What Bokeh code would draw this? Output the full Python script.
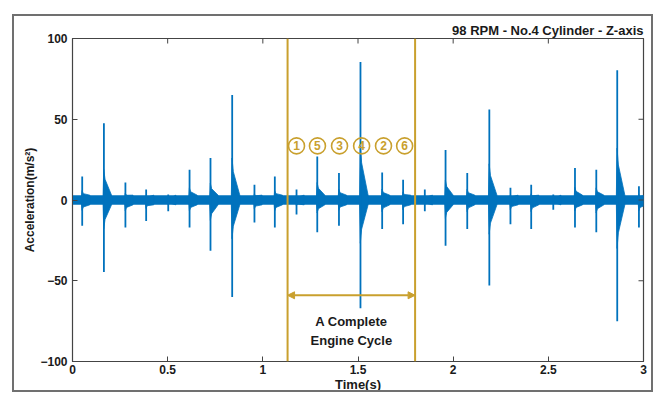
import math
from bokeh.plotting import figure
from bokeh.models import Range1d, Arrow, NormalHead, Span, FixedTicker
from bokeh.embed import file_html
from bokeh.resources import INLINE
from bokeh.core.properties import value

# ---- data ----
event_t = [0.051, 0.165, 0.278, 0.387, 0.503, 0.615, 0.725, 0.839, 0.956, 1.063,
           1.177, 1.286, 1.400, 1.513, 1.627, 1.737, 1.851, 1.960, 2.074, 2.190,
           2.301, 2.410, 2.526, 2.640, 2.752, 2.862, 2.976]
event_up = [14.6, 47.5, 10.8, 6.5, 3.4, 18.8, 26.0, 65.0, 9.5, 14.6,
            6.5, 27.0, 16.7, 85.4, 17.0, 12.6, 6.5, 31.0, 16.7, 56.0,
            7.6, 9.5, 3.4, 19.8, 18.8, 80.3, 8.5]
event_down = [-16.0, -44.6, -17.0, -13.0, -6.9, -17.0, -31.5, -60.0, -14.0, -17.0,
              -9.0, -20.0, -16.0, -67.0, -18.0, -15.0, -7.0, -28.4, -18.0, -53.0,
              -15.0, -18.0, -6.0, -17.0, -20.0, -75.0, -17.0]
noise_level = 3.0

x_ticks = [0, 0.5, 1, 1.5, 2, 2.5, 3]
x_tick_labels = ["0", "0.5", "1", "1.5", "2", "2.5", "3"]
y_ticks = [-100, -50, 0, 50, 100]

cycle_start, cycle_end = 1.13, 1.80
arrow_y = -59
cyl_order = ["1", "5", "3", "4", "2", "6"]
cyl_t = [1.177, 1.287, 1.403, 1.519, 1.634, 1.745]
cyl_y = 33.5
cycle_text = ["A Complete", "Engine Cycle"]
cycle_text_y = [-75, -87]

BLUE = "#0072BD"
GOLD = "#C9A02E"
TXT = "#1a1a1a"
AX = "#444444"
FONT = "Liberation Sans"

p = figure(width=641, height=378, x_range=Range1d(x_ticks[0], x_ticks[-1]),
           y_range=Range1d(y_ticks[0], y_ticks[-1]),
           output_backend="svg", toolbar_location=None,
           min_border_left=58, min_border_right=12, min_border_top=22, min_border_bottom=31)
p.styles = {"margin-left": "12px", "margin-top": "14px", "border": "2px solid #707070"}
p.xgrid.visible = False
p.ygrid.visible = False
p.outline_line_color = AX
p.outline_line_width = 1.2

p.title.text = "98 RPM - No.4 Cylinder - Z-axis"
p.title.align = "right"
p.title.text_font = FONT
p.title.text_font_size = "13px"
p.title.text_font_style = "bold"
p.title.text_color = TXT
p.title.standoff = 2

# signal
xs, ys = [], []
for t, u, d in zip(event_t, event_up, event_down):
    xs.append([t - 0.005, t - 0.001, t + 0.006, t + 0.04, t + 0.04, t + 0.006, t - 0.001])
    ys.append([0, 0.4 * u, 0.27 * u, noise_level, -noise_level, 0.27 * d, 0.4 * d])
p.varea(x=[x_ticks[0], x_ticks[-1]], y1=[-noise_level] * 2, y2=[noise_level] * 2,
        fill_color=BLUE)
p.patches(xs, ys, fill_color=BLUE, line_color=BLUE, line_width=0.8)
p.segment(x0=event_t, y0=event_down, x1=event_t, y1=event_up, line_color=BLUE, line_width=1.8)

# engine cycle markers
for loc in (cycle_start, cycle_end):
    p.add_layout(Span(location=loc, dimension="height", line_color=GOLD, line_width=2))
p.add_layout(Arrow(start=NormalHead(size=7, fill_color=GOLD, line_color=GOLD),
                   end=NormalHead(size=7, fill_color=GOLD, line_color=GOLD),
                   x_start=cycle_start, x_end=cycle_end, y_start=arrow_y, y_end=arrow_y,
                   line_color=GOLD, line_width=2))
mid = (cycle_start + cycle_end) / 2
p.text(x=[mid] * len(cycle_text), y=cycle_text_y, text=cycle_text, text_align="center",
       text_baseline="middle", text_font=value(FONT), text_font_size="13px",
       text_font_style="bold", text_color=TXT)
p.scatter(x=cyl_t, y=[cyl_y] * len(cyl_t), marker="circle", size=16, fill_alpha=0,
          line_color=GOLD, line_width=1.6)
p.text(x=cyl_t, y=[cyl_y] * len(cyl_t), text=cyl_order, text_align="center",
       text_baseline="middle", text_font=value(FONT), text_font_size="12px",
       text_font_style="bold", text_color=GOLD)

# inward ticks on the top and right edges of the box
p.scatter(x=x_ticks, y=[y_ticks[-1]] * len(x_ticks), marker="dash", size=10,
          angle=math.pi / 2, line_color=AX, line_width=1)
p.scatter(x=[x_ticks[-1]] * len(y_ticks), y=y_ticks, marker="dash", size=10,
          line_color=AX, line_width=1)

# axes
def style_axis(ax):
    ax.major_tick_in = 5
    ax.major_tick_out = 0
    ax.minor_tick_line_color = None
    ax.axis_line_color = AX
    ax.major_tick_line_color = AX
    ax.major_label_text_font = FONT
    ax.major_label_text_font_style = "bold"
    ax.major_label_text_font_size = "12px"
    ax.major_label_text_color = TXT
    ax.axis_label_text_font = FONT
    ax.axis_label_text_font_style = "bold"
    ax.axis_label_text_color = TXT

xa = p.xaxis[0]
style_axis(xa)
xa.ticker = FixedTicker(ticks=x_ticks)
xa.major_label_overrides = {t: l for t, l in zip(x_ticks, x_tick_labels)}
xa.axis_label = "Time(s)"
xa.axis_label_text_font_size = "13px"
xa.major_label_standoff = 3
xa.axis_label_standoff = 0

ya = p.yaxis[0]
style_axis(ya)
ya.ticker = FixedTicker(ticks=y_ticks)
ya.axis_label = "Acceleration(m/s²)"
ya.axis_label_text_font_size = "12px"
ya.major_label_standoff = 5
ya.axis_label_standoff = 0

open("out.html", "w").write(file_html(p, INLINE))
